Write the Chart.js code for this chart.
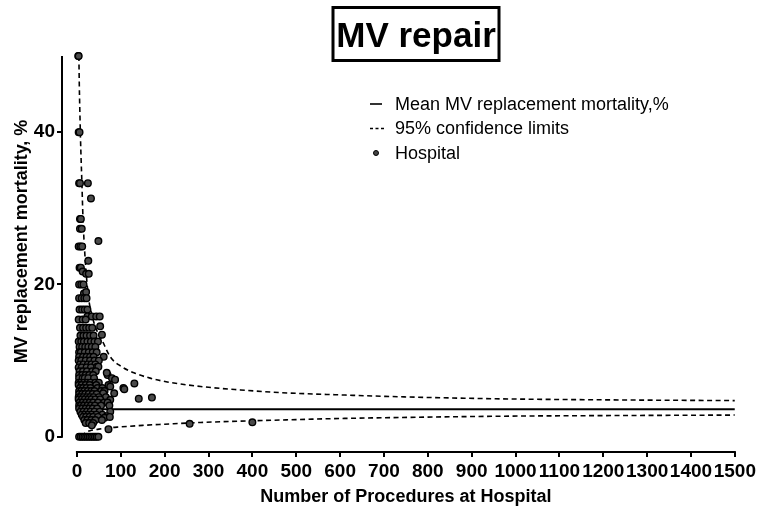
<!DOCTYPE html>
<html><head><meta charset="utf-8">
<script src="https://cdn.jsdelivr.net/npm/chart.js@4.4.1/dist/chart.umd.min.js"></script>
<style>html,body{margin:0;padding:0;background:#fff}#wrap{width:759px;height:508px;position:relative}</style>
</head><body><div id="wrap"><canvas id="c" width="759" height="508"></canvas></div>
<script>
const chartTitle = 'MV repair';
const xAxisTitle = 'Number of Procedures at Hospital';
const yAxisTitle = 'MV replacement mortality, %';
const legendLabels = ['Mean MV replacement mortality,%', '95% confidence limits', 'Hospital'];
const xTicks = [0,100,200,300,400,500,600,700,800,900,1000,1100,1200,1300,1400,1500];
const yTicks = [0,20,40];

// Hospitals: [number of procedures, mortality %]
const hospitals = [
[3,50],[4,50],
[4,40],[6,40],
[5,33.3],[7,33.3],[25,33.3],
[32,31.3],
[7,28.6],[9,28.6],
[7,27.3],[11,27.3],
[49,25.7],
[4,25],[8,25],[12,25],
[26,23.1],
[6,22.2],[9,22.2],
[13,21.7],[21,21.4],[27,21.4],
[5,20],[10,20],[15,20],
[16,18.8],[21,19],
[5,18.2],[11,18.2],[17,18.2],[22,18.2],
[6,16.7],[12,16.7],[18,16.7],[24,16.7],
[24,15.8],[34,15.8],[44,15.8],[52,15.8],
[4,15.4],[13,15.4],[20,15.4],
[7,14.3],[14,14.3],[21,14.3],[28,14.3],[35,14.3],[53,14.5],
[8,13.3],[15,13.3],[22,13.3],[30,13.3],[38,13.3],[57,13.4],
[4,12.5],[10,12.5],[16,12.5],[24,12.5],[32,12.5],[40,12.5],[48,12.5],
[6,11.8],[12,11.8],[19,11.8],[26,11.8],[34,11.8],[42,11.8],
[5,11.1],[9,11.1],[18,11.1],[27,11.1],[36,11.1],[45,11.1],
[5,10.5],[14,10.5],[22,10.5],[30,10.5],[38,10.5],[61,10.5],
[4,10],[10,10],[20,10],[30,10],[40,10],[50,10],
[7,9.5],[15,9.5],[25,9.5],[33,9.5],[42,9.5],
[4,9.1],[11,9.1],[22,9.1],[32,9.1],[46,9.2],[49,9.2],
[6,8.6],[14,8.6],[23,8.6],[35,8.6],[43,8.6],
[5,8.1],[12,8.1],[20,8.1],[28,8.1],[37,8.1],[70,8.1],[68,8.4],
[5,7.7],[13,7.7],[18,7.7],[26,7.7],[39,7.7],[80,7.7],[87,7.5],
[4,7.1],[9,7.1],[16,7.1],[24,7.1],[31,7.1],[42,7.1],[50,7.1],[131,7.0],
[4,6.8],[11,6.8],[20,6.8],[29,6.8],[44,6.8],[72,6.8],
[7,6.4],[14,6.4],[22,6.4],[31,6.4],[47,6.4],[58,6.4],[106,6.4],[108,6.25],[76,6.6],
[5,6],[10,6],[17,6],[25,6],[33,6],[40,6],[55,6],[63,6],
[5,5.6],[12,5.6],[19,5.6],[27,5.6],[36,5.6],[45,5.6],[60,5.7],[85,5.7],
[4,5.2],[8,5.2],[15,5.2],[23,5.2],[30,5.2],[38,5.2],[50,5.2],[66,5.2],[171,5.15],
[4,4.9],[11,4.9],[18,4.9],[26,4.9],[33,4.9],[42,4.9],[53,4.9],[76,4.85],[141,5.0],
[6,4.5],[13,4.5],[21,4.5],[29,4.5],[37,4.5],[48,4.5],[62,4.5],[70,4.5],
[5,4.1],[9,4.1],[16,4.1],[24,4.1],[32,4.1],[41,4.1],[55,4.1],[74,4.1],
[5,3.7],[12,3.7],[20,3.7],[28,3.7],[36,3.7],[46,3.7],
[8,3.3],[15,3.3],[23,3.3],[31,3.3],[40,3.3],[52,3.3],[76,3.3],
[11,2.9],[18,2.9],[26,2.9],[34,2.9],[44,2.9],[58,2.9],[68,2.7],
[14,2.6],[21,2.6],[29,2.6],[37,2.6],[48,2.6],[63,2.5],[75,2.6],
[17,2.2],[24,2.2],[33,2.2],[42,2.2],[57,2.2],
[20,1.8],[28,1.8],[37,1.8],[257,1.7],[400,1.9],
[34,1.5],[72,1.0],
[5,0],[9,0],[13,0],[17,0],[21,0],[25,0],[29,0],[33,0],[37,0],[41,0],[45,0],[49,0]
];

const meanN = [0, 1500];
const meanPct = [3.63, 3.63];
const upperN = [4.5, 5.5, 7, 9, 11, 14, 19, 26, 35, 45, 57, 76, 99, 130, 167, 206, 282, 373, 464, 600, 738, 966, 1200, 1500];
const upperPct = [50, 46, 42, 37.5, 34, 28.5, 23.2, 18.5, 15.8, 14, 12.7, 10.5, 9.3, 8.4, 7.7, 7.2, 6.6, 6.15, 5.8, 5.5, 5.25, 4.98, 4.85, 4.75];
const lowerN = [11, 15, 20, 30, 50, 75, 100, 150, 200, 282, 373, 464, 600, 738, 966, 1200, 1500];
const lowerPct = [0, 0.3, 0.55, 0.8, 1.0, 1.2, 1.3, 1.5, 1.65, 1.88, 2.05, 2.2, 2.4, 2.53, 2.7, 2.78, 2.85];

const FONT = '"Liberation Sans", Arial, Helvetica, sans-serif';
const toXY = (xs, ys) => xs.map((v, i) => ({x: v, y: ys[i]}));

const decor = {
  id: 'decor',
  afterDraw(chart) {
    const ctx = chart.ctx, xs = chart.scales.x, ys = chart.scales.y, a = chart.chartArea;
    ctx.save();
    ctx.strokeStyle = '#000';
    ctx.lineWidth = 2;
    ctx.beginPath();
    ctx.moveTo(xs.getPixelForValue(xTicks[0]) - 1, a.bottom);
    ctx.lineTo(xs.getPixelForValue(xTicks[xTicks.length-1]) + 1, a.bottom);
    ctx.stroke();
    ctx.beginPath();
    ctx.moveTo(a.left, ys.getPixelForValue(0) + 1);
    ctx.lineTo(a.left, ys.getPixelForValue(50));
    ctx.stroke();
    ctx.lineWidth = 3;
    ctx.strokeRect(333, 7.5, 166, 53);
    ctx.fillStyle = '#000';
    ctx.font = 'bold 35px ' + FONT;
    ctx.textAlign = 'center';
    ctx.textBaseline = 'alphabetic';
    ctx.fillText(chartTitle, 416, 47);
    ctx.font = 'bold 18px ' + FONT;
    ctx.fillText(xAxisTitle, (xs.getPixelForValue(0) + xs.getPixelForValue(1500)) / 2, 501.5);
    ctx.save();
    ctx.translate(27, 241.5);
    ctx.rotate(-Math.PI / 2);
    ctx.fillText(yAxisTitle, 0, 0);
    ctx.restore();
    ctx.font = '18px ' + FONT;
    ctx.textAlign = 'left';
    ctx.textBaseline = 'middle';
    const rows = [104, 128.5, 153];
    ctx.lineWidth = 1.6;
    ctx.beginPath(); ctx.moveTo(370, rows[0]); ctx.lineTo(382, rows[0]); ctx.stroke();
    ctx.setLineDash([3, 2.5]);
    ctx.beginPath(); ctx.moveTo(370, rows[1]); ctx.lineTo(384, rows[1]); ctx.stroke();
    ctx.setLineDash([]);
    ctx.beginPath(); ctx.arc(376, rows[2], 2.5, 0, Math.PI * 2);
    ctx.fillStyle = '#444'; ctx.fill(); ctx.lineWidth = 1; ctx.stroke();
    ctx.fillStyle = '#000';
    legendLabels.forEach((t, i) => ctx.fillText(t, 395, rows[i] + 1));
    ctx.restore();
  }
};

new Chart(document.getElementById('c'), {
  data: {
    datasets: [
      {
        type: 'scatter', label: 'Hospital', order: 0, clip: 8,
        data: hospitals.map(([n, p]) => ({x: n, y: p})),
        pointRadius: 3.3, pointBackgroundColor: '#4a4a4a', pointBorderColor: '#000', pointBorderWidth: 1.4,
        pointHoverRadius: 3.3
      },
      {
        type: 'line', label: 'Mean MV replacement mortality,%', order: 1,
        data: toXY(meanN, meanPct), borderColor: '#000', borderWidth: 2, pointRadius: 0, fill: false
      },
      {
        type: 'line', label: '95% confidence limits', order: 1,
        data: toXY(upperN, upperPct), borderColor: '#000', borderWidth: 1.6, borderDash: [5, 3.5],
        pointRadius: 0, fill: false, cubicInterpolationMode: 'monotone'
      },
      {
        type: 'line', label: '95% confidence limits (lower)', order: 1,
        data: toXY(lowerN, lowerPct), borderColor: '#000', borderWidth: 1.6, borderDash: [5, 3.5],
        pointRadius: 0, fill: false, cubicInterpolationMode: 'monotone'
      }
    ]
  },
  options: {
    responsive: false, animation: false, devicePixelRatio: 1,
    layout: {padding: {left: 0, top: 56, right: 22, bottom: 0}},
    plugins: {legend: {display: false}, tooltip: {enabled: false}, title: {display: false}},
    scales: {
      x: {
        type: 'linear', min: -34, max: 1500,
        afterBuildTicks: s => { s.ticks = xTicks.map(v => ({value: v})); },
        afterFit: s => { s.height = 56; },
        grid: {drawOnChartArea: false, drawTicks: true, tickLength: 5, color: '#000', lineWidth: 2},
        border: {display: false},
        ticks: {color: '#000', font: {family: FONT, size: 19, weight: 'bold'}, padding: 3, maxRotation: 0, autoSkip: false,
                callback: v => String(v)}
      },
      y: {
        type: 'linear', min: -2, max: 50,
        afterBuildTicks: s => { s.ticks = yTicks.map(v => ({value: v})); },
        afterFit: s => { s.width = 62; },
        grid: {drawOnChartArea: false, drawTicks: true, tickLength: 5, color: '#000', lineWidth: 2},
        border: {display: false},
        ticks: {color: '#000', font: {family: FONT, size: 19, weight: 'bold'}, padding: 2, callback: v => String(v)}
      }
    }
  },
  plugins: [decor]
});
</script>
</body></html>
